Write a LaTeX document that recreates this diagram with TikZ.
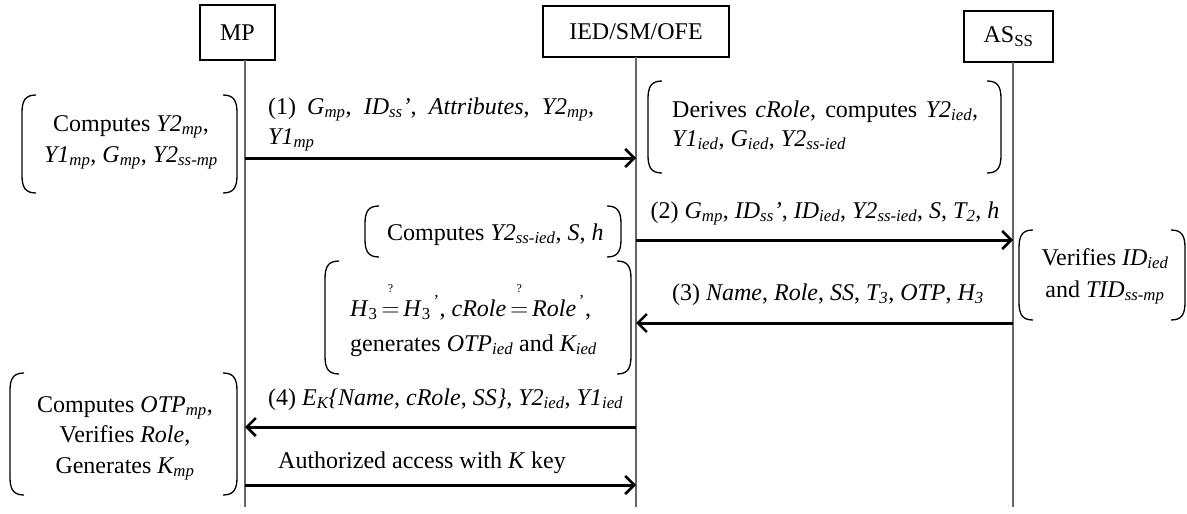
\documentclass[tikz,border=0pt]{standalone}
\usepackage{fontspec}
\setmainfont{Liberation Serif}
\usetikzlibrary{arrows.meta}
\newcommand\parenbox[4]{%
 \draw[paren] ({#1+14},#2) .. controls ({#1+3},#2) and (#1,{#2+6}) .. (#1,{#2+18}) -- (#1,{#4-18}) .. controls (#1,{#4-6}) and ({#1+3},#4) .. ({#1+14},#4);
 \draw[paren] ({#3-14},#2) .. controls ({#3-3},#2) and (#3,{#2+6}) .. (#3,{#2+18}) -- (#3,{#4-18}) .. controls (#3,{#4-6}) and ({#3-3},#4) .. ({#3-14},#4);
}
\newcommand\sbs[1]{\textsubscript{#1}}
\newcommand\qeq{\mathrel{\mathop{=}\limits^{\raisebox{13pt}{\fontsize{12}{12}\selectfont ?}}}}
\begin{document}
\begin{tikzpicture}[x=1pt,y=-1pt,
  actor/.style={draw,line width=1.3pt,inner sep=0pt,font=\fontsize{24}{28}\selectfont},
  life/.style={draw=black!60,line width=1.4pt},
  msg/.style={line width=3pt,-{Straight Barb[length=9pt,width=18pt,line width=2.6pt]}},
  txt/.style={font=\fontsize{24}{28}\selectfont,inner sep=0pt},
  paren/.style={line width=1.3pt}
]
\useasboundingbox (0,0) rectangle (1187,514);
% actors
\node[actor,minimum width=75pt,minimum height=55pt] (mp) at (237.5,32.5) {MP};
\node[actor,minimum width=186pt,minimum height=51pt] (ied) at (636,31.5) {IED/SM/OFE};
\node[actor,minimum width=89pt,minimum height=51pt] (as) at (1008.5,36.5) {AS\sbs{SS}};
% lifelines
\coordinate (mpA) at (245,60);   \coordinate (mpB) at (245,507);
\coordinate (iedA) at (636,57);  \coordinate (iedB) at (636,507);
\coordinate (asA) at (1013,62);  \coordinate (asB) at (1013,507);
\draw[life] (mpA) -- (mpB);
\draw[life] (iedA) -- (iedB);
\draw[life] (asA) -- (asB);
% message points
\coordinate (m1s) at (245,158); \coordinate (m1e) at (636,158);
\coordinate (m2s) at (636,240); \coordinate (m2e) at (1013,240);
\coordinate (m3s) at (1013,323); \coordinate (m3e) at (636,323);
\coordinate (m4s) at (636,427); \coordinate (m4e) at (245,427);
\coordinate (m5s) at (245,485); \coordinate (m5e) at (636,485);
\draw[msg] (m1s) -- (m1e);
\draw[msg] (m2s) -- (m2e);
\draw[msg] (m3s) -- (m3e);
\draw[msg] (m4s) -- (m4e);
\draw[msg] (m5s) -- (m5e);
% brackets
\parenbox{22}{95}{237}{193}
\parenbox{648}{81}{1001}{173}
\parenbox{365}{206}{621}{257}
\parenbox{325}{261}{631}{374}
\parenbox{1019}{230}{1185}{320}
\parenbox{10}{373}{237}{495}
% texts
\node[txt,anchor=base west] (l1a) at (268,114) {\makebox[326pt][s]{(1) \textit{G\sbs{mp}}, \textit{ID\sbs{ss}}\textit{'}, \textit{Attributes}, \textit{Y2\sbs{mp}},}};
\node[txt,anchor=base west] (l1b) at (268,144) {\textit{Y1\sbs{mp}}};
\node[txt,anchor=base] (c1a) at (131,131) {Computes \textit{Y2\sbs{mp}},};
\node[txt,anchor=base] (c1b) at (131,162) {\textit{Y1\sbs{mp}}, \textit{G\sbs{mp}}, \textit{Y2\sbs{ss-mp}}};
\node[txt,anchor=base west] (d1a) at (672,117) {\makebox[306pt][s]{Derives \textit{cRole}, computes \textit{Y2\sbs{ied}},}};
\node[txt,anchor=base west] (d1b) at (672,146) {\textit{Y1\sbs{ied}}, \textit{G\sbs{ied}}, \textit{Y2\sbs{ss-ied}}};
\node[txt,anchor=base] (l2) at (825,218) {(2) \textit{G\sbs{mp}}, \textit{ID\sbs{ss}'}, \textit{ID\sbs{ied}}, \textit{Y2\sbs{ss-ied}}, \textit{S}, \textit{T\sbs{2}}, \textit{h}};
\node[txt,anchor=base west] (c2) at (387,240) {Computes \textit{Y2\sbs{ss-ied}}, \textit{S}, \textit{h}};
\node[txt,anchor=base] (v1) at (1105,265) {Verifies \textit{ID\sbs{ied}}};
\node[txt,anchor=base] (v2) at (1105,297) {and \textit{TID\sbs{ss-mp}}};
\node[txt,anchor=base] (l3) at (828,300) {(3) \textit{Name}, \textit{Role}, \textit{SS}, \textit{T\sbs{3}}, \textit{OTP}, \textit{H\sbs{3}}};
\node[txt,anchor=base west] (h1) at (350,316) {\textit{H}\sbs{3}\,$\qeq$\,\textit{H}\sbs{3}\textsuperscript{\,'}, \textit{cRole}\,$\qeq$\,\textit{Role}\textsuperscript{\,'},};
\node[txt,anchor=base west] (h2) at (350,351) {generates \textit{OTP\sbs{ied}} and \textit{K\sbs{ied}}};
\node[txt,anchor=base west] (l4) at (268,405) {(4) \textit{E\sbs{K}\{Name}, \textit{cRole}, \textit{SS\}}, \textit{Y2\sbs{ied}}, \textit{Y1\sbs{ied}}};
\node[txt,anchor=base west] (l5) at (278,468) {Authorized access with \textit{K} key};
\node[txt,anchor=base] (b1) at (125,412) {Computes \textit{OTP\sbs{mp}},};
\node[txt,anchor=base] (b2) at (125,442) {Verifies \textit{Role},};
\node[txt,anchor=base] (b3) at (125,473) {Generates \textit{K\sbs{mp}}};
\end{tikzpicture}
\end{document}
